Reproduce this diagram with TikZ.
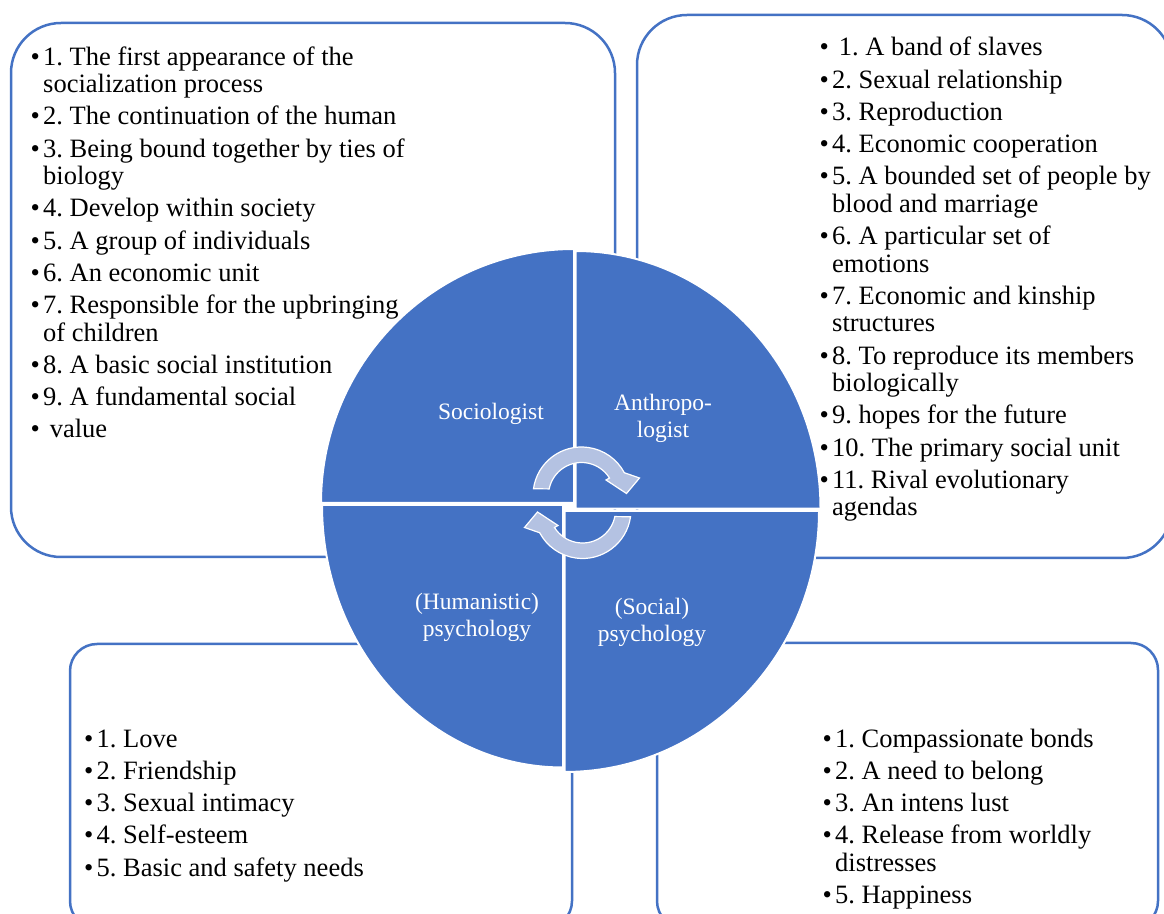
\documentclass[tikz,border=0pt]{standalone}
\usepackage{fontspec}
\setmainfont{Liberation Serif}
\frenchspacing
\definecolor{Accent}{RGB}{68,114,196}
\definecolor{PaleAccent}{RGB}{180,194,226}
\newcommand{\bul}{\makebox[12.5pt][l]{\textbullet}}
\newcommand{\ind}{\hspace*{12.5pt}}
\newcommand{\turnarrow}[2]{%
  \filldraw[turn, shift={#1}, rotate=#2] (168.5:33) -- (172:48.5) arc[start angle=172, end angle=28, radius=48.5]
    -- (58,17.5) -- (45,2) -- (24.5,15.5) -- (32:33) arc[start angle=32, end angle=168.5, radius=33] -- cycle;}
\tikzset{
  box/.style={draw=Accent, line width=2.5pt, rounded corners=50pt},
  smallbox/.style={draw=Accent, line width=2.5pt, rounded corners=27pt},
  quad/.style={fill=Accent, draw=white, line width=2pt},
  turn/.style={fill=PaleAccent, draw=white, line width=1.2pt, line join=miter},
  list/.style={align=left, anchor=base west, inner sep=0pt, font=\fontsize{26.5}{27.5}\selectfont},
  field/.style={align=center, text=white, inner sep=0pt, font=\fontsize{23.5}{27}\selectfont}
}
\begin{document}
\begin{tikzpicture}[x=1pt,y=1pt]
\useasboundingbox[fill=white] (0,0) rectangle (1164,913);

\draw[box] (11,356) rectangle (615,890);
\draw[box] (637,355) rectangle (1172,898);
\draw[smallbox] (70,-15) rectangle (572,269);
\draw[smallbox] (657,-15) rectangle (1158,270);

\filldraw[quad] (574,410) -- (574,664) arc[start angle=90, end angle=180, x radius=253, y radius=254] -- cycle;
\filldraw[quad] (575.5,404.4) -- (575.5,662) arc[start angle=90, end angle=0, x radius=245, y radius=257.6] -- cycle;
\filldraw[quad] (563,408) -- (322,408) arc[start angle=180, end angle=270, x radius=241, y radius=262.5] -- cycle;
\filldraw[quad] (564.5,402) -- (564.5,141) arc[start angle=270, end angle=360, x radius=254.5, y radius=261] -- cycle;

\turnarrow{(581.5,417.5)}{0}
\turnarrow{(582.5,403)}{180}

\node[field] (socio) at (491,499) {Sociologist};
\node[field] (anthro) at (663,495) {Anthropo-\\logist};
\node[field] (human) at (477,296) {(Humanistic)\\psychology};
\node[field] (social) at (652,291) {(Social)\\psychology};

% lists are anchored at the baseline of their last line
\node[list] (sociolist) at (30.5,475) {\bul 1. The first appearance of the\\
\ind socialization process\\[4.75pt]
\bul 2. The continuation of the human\\[4.75pt]
\bul 3. Being bound together by ties of\\
\ind biology\\[4.75pt]
\bul 4. Develop within society\\[4.75pt]
\bul 5. A group of individuals\\[4.75pt]
\bul 6. An economic unit\\[4.75pt]
\bul 7. Responsible for the upbringing\\
\ind of children\\[4.75pt]
\bul 8. A basic social institution\\[4.75pt]
\bul 9. A fundamental social\\[4.75pt]
\bul~value};

\node[list] (anthrolist) at (819.5,397) {\bul~1. A band of slaves\\[4.75pt]
\bul 2. Sexual relationship\\[4.75pt]
\bul 3. Reproduction\\[4.75pt]
\bul 4. Economic cooperation\\[4.75pt]
\bul 5. A bounded set of people by\\
\ind blood and marriage\\[4.75pt]
\bul 6. A particular set of\\
\ind emotions\\[4.75pt]
\bul 7. Economic and kinship\\
\ind structures\\[4.75pt]
\bul 8. To reproduce its members\\
\ind biologically\\[4.75pt]
\bul 9. hopes for the future\\[4.75pt]
\bul 10. The primary social unit\\[4.75pt]
\bul 11. Rival evolutionary\\
\ind agendas};

\node[list] (humanlist) at (84,37) {\bul 1. Love\\[4.75pt]
\bul 2. Friendship\\[4.75pt]
\bul 3. Sexual intimacy\\[4.75pt]
\bul 4. Self-esteem\\[4.75pt]
\bul 5. Basic and safety needs};

\node[list] (sociallist) at (822.5,9.5) {\bul 1. Compassionate bonds\\[4.75pt]
\bul 2. A need to belong\\[4.75pt]
\bul 3. An intens lust\\[4.75pt]
\bul 4. Release from worldly\\
\ind distresses\\[4.75pt]
\bul 5. Happiness};
\end{tikzpicture}
\end{document}
